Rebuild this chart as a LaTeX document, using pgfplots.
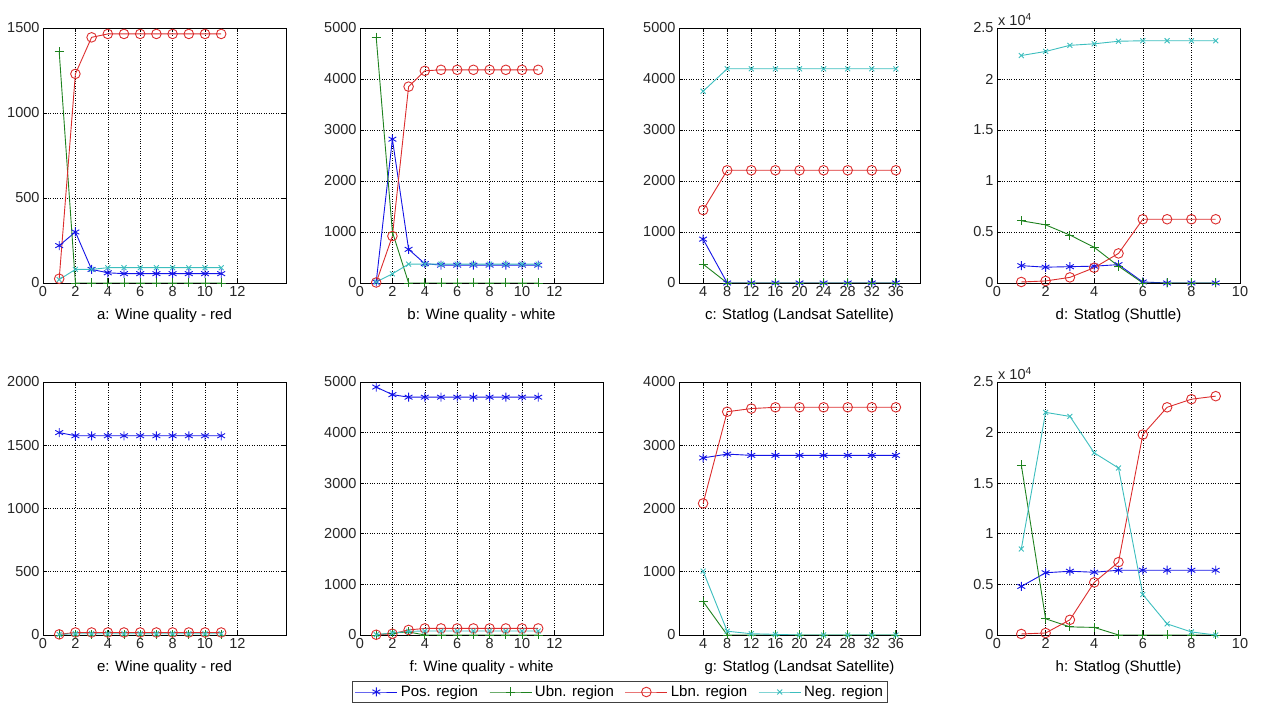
\documentclass[border=0pt]{standalone}
\usepackage{fontspec}
\setmainfont{Liberation Sans}
\usepackage{pgfplots}
\pgfplotsset{compat=1.18}
\definecolor{cpos}{RGB}{20,20,230}
\definecolor{cubn}{RGB}{30,130,30}
\definecolor{clbn}{RGB}{220,45,45}
\definecolor{cneg}{RGB}{60,190,190}
\newcommand{\fs}{\fontsize{15}{17}\selectfont}
\newcommand{\ft}{\fontsize{14.5}{16}\selectfont}
\pgfplotsset{
  panel/.style={
    scale only axis, width=243pt, anchor=south west,
    ymin=0, grid=major,
    major grid style={black, dotted, line width=0.6pt},
    axis line style={black, line width=0.8pt},
    tick style={black, line width=0.6pt}, major tick length=4pt, tick align=inside,
    tick label style={font=\ft, text=black!85},
    /pgf/number format/assume math mode=true,
    /pgf/number format/1000 sep={},
    scaled y ticks=false,
    xlabel style={font=\fs, text=black, at={(axis description cs:0.5,0)}, anchor=center, yshift=-33pt},
    every axis plot/.append style={line width=0.9pt},
  },
  top/.style={height=255pt},
  bot/.style={height=253pt},
  wine/.style={xmin=0, xmax=15, xtick={0,2,...,12}},
  land/.style={xmin=0, xmax=40, xtick={4,8,...,36}},
  shut/.style={xmin=0, xmax=10, xtick={0,2,...,10}, ymax=25000, ytick={0,5000,10000,15000,20000,25000},
    yticklabels={0,0.5,1,1.5,2,2.5},
    extra description/.code={\node[anchor=south west, inner sep=1pt, font=\ft, text=black!85] at ([yshift=1pt]rel axis cs:0,1) {x 10\textsuperscript{4}};}},
  pos/.style={color=cpos, mark=asterisk, mark size=4.5pt, mark options={solid}},
  ubn/.style={color=cubn, mark=+, mark size=4.5pt},
  lbn/.style={color=clbn, mark=o, mark size=4.8pt},
  neg/.style={color=cneg, mark=x, mark size=3.5pt},
}
\begin{document}
\begin{tikzpicture}
\useasboundingbox (0,0) rectangle (1262pt,707pt);
% a
\begin{axis}[panel, top, wine, at={(43pt,424pt)}, ymax=1500, ytick={0,500,1000,1500}, xlabel={a: Wine quality - red}]
\addplot[pos] coordinates {(1,220)(2,300)(3,80)(4,60)(5,55)(6,55)(7,55)(8,55)(9,55)(10,55)(11,55)};
\addplot[ubn] coordinates {(1,1360)(2,0)(3,0)(4,0)(5,0)(6,0)(7,0)(8,0)(9,0)(10,0)(11,0)};
\addplot[lbn] coordinates {(1,25)(2,1230)(3,1445)(4,1465)(5,1465)(6,1465)(7,1465)(8,1465)(9,1465)(10,1465)(11,1465)};
\addplot[neg] coordinates {(1,20)(2,80)(3,80)(4,90)(5,90)(6,90)(7,90)(8,90)(9,90)(10,90)(11,90)};
\end{axis}
% b
\begin{axis}[panel, top, wine, at={(360pt,424pt)}, ymax=5000, ytick={0,1000,...,5000}, xlabel={b: Wine quality - white}]
\addplot[pos] coordinates {(1,20)(2,2820)(3,660)(4,380)(5,350)(6,350)(7,350)(8,350)(9,350)(10,350)(11,350)};
\addplot[ubn] coordinates {(1,4820)(2,1000)(3,0)(4,0)(5,0)(6,0)(7,0)(8,0)(9,0)(10,0)(11,0)};
\addplot[lbn] coordinates {(1,10)(2,920)(3,3850)(4,4160)(5,4180)(6,4180)(7,4180)(8,4180)(9,4180)(10,4180)(11,4180)};
\addplot[neg] coordinates {(1,20)(2,180)(3,370)(4,370)(5,370)(6,370)(7,370)(8,370)(9,370)(10,370)(11,370)};
\end{axis}
% c
\begin{axis}[panel, top, land, width=241pt, at={(679pt,424pt)}, ymax=5000, ytick={0,1000,...,5000}, xlabel={c: Statlog (Landsat Satellite)}]
\addplot[pos] coordinates {(4,860)(8,0)(12,0)(16,0)(20,0)(24,0)(28,0)(32,0)(36,0)};
\addplot[ubn] coordinates {(4,370)(8,0)(12,0)(16,0)(20,0)(24,0)(28,0)(32,0)(36,0)};
\addplot[lbn] coordinates {(4,1430)(8,2210)(12,2210)(16,2210)(20,2210)(24,2210)(28,2210)(32,2210)(36,2210)};
\addplot[neg] coordinates {(4,3760)(8,4200)(12,4200)(16,4200)(20,4200)(24,4200)(28,4200)(32,4200)(36,4200)};
\end{axis}
% d
\begin{axis}[panel, top, shut, at={(997pt,424pt)}, xlabel={d: Statlog (Shuttle)}]
\addplot[pos] coordinates {(1,1700)(2,1550)(3,1600)(4,1650)(5,1800)(6,100)(7,0)(8,0)(9,0)};
\addplot[ubn] coordinates {(1,6100)(2,5700)(3,4700)(4,3500)(5,1650)(6,0)(7,0)(8,0)(9,0)};
\addplot[lbn] coordinates {(1,100)(2,200)(3,550)(4,1500)(5,2900)(6,6250)(7,6250)(8,6250)(9,6250)};
\addplot[neg] coordinates {(1,22300)(2,22700)(3,23300)(4,23450)(5,23700)(6,23750)(7,23750)(8,23750)(9,23750)};
\end{axis}
% e
\begin{axis}[panel, bot, wine, at={(43pt,72pt)}, ymax=2000, ytick={0,500,...,2000}, xlabel={e: Wine quality - red}]
\addplot[pos] coordinates {(1,1600)(2,1575)(3,1575)(4,1575)(5,1575)(6,1575)(7,1575)(8,1575)(9,1575)(10,1575)(11,1575)};
\addplot[ubn] coordinates {(1,0)(2,0)(3,0)(4,0)(5,0)(6,0)(7,0)(8,0)(9,0)(10,0)(11,0)};
\addplot[lbn] coordinates {(1,5)(2,20)(3,20)(4,20)(5,20)(6,20)(7,20)(8,20)(9,20)(10,20)(11,20)};
\addplot[neg] coordinates {(1,5)(2,10)(3,10)(4,10)(5,10)(6,10)(7,10)(8,10)(9,10)(10,10)(11,10)};
\end{axis}
% f
\begin{axis}[panel, bot, wine, at={(360pt,72pt)}, ymax=5000, ytick={0,1000,...,5000}, xlabel={f: Wine quality - white},
  legend columns=4,
  legend style={at={(axis description cs:1.07,-0.2253)}, anchor=center, draw=black!75, line width=0.6pt,
    font=\fs, inner sep=2.5pt, /tikz/every even column/.append style={column sep=9pt},
    /tikz/every odd column/.append style={column sep=1pt}},
  legend image code/.code={\draw[mark repeat=2, mark phase=2, #1] plot coordinates {(0pt,0pt) (21pt,0pt) (42pt,0pt)};}]
\addplot[pos] coordinates {(1,4900)(2,4750)(3,4700)(4,4700)(5,4700)(6,4700)(7,4700)(8,4700)(9,4700)(10,4700)(11,4700)};
\addplot[ubn] coordinates {(1,0)(2,40)(3,60)(4,0)(5,0)(6,0)(7,0)(8,0)(9,0)(10,0)(11,0)};
\addplot[lbn] coordinates {(1,5)(2,25)(3,100)(4,130)(5,130)(6,130)(7,130)(8,130)(9,130)(10,130)(11,130)};
\addplot[neg] coordinates {(1,5)(2,40)(3,70)(4,80)(5,80)(6,80)(7,80)(8,80)(9,80)(10,80)(11,80)};
\legend{Pos. region, Ubn. region, Lbn. region, Neg. region}
\end{axis}
% g
\begin{axis}[panel, bot, land, width=241pt, at={(679pt,72pt)}, ymax=4000, ytick={0,1000,...,4000}, xlabel={g: Statlog (Landsat Satellite)}]
\addplot[pos] coordinates {(4,2800)(8,2860)(12,2840)(16,2840)(20,2840)(24,2840)(28,2840)(32,2840)(36,2840)};
\addplot[ubn] coordinates {(4,530)(8,0)(12,0)(16,0)(20,0)(24,0)(28,0)(32,0)(36,0)};
\addplot[lbn] coordinates {(4,2080)(8,3530)(12,3580)(16,3600)(20,3600)(24,3600)(28,3600)(32,3600)(36,3600)};
\addplot[neg] coordinates {(4,1010)(8,60)(12,20)(16,10)(20,0)(24,0)(28,0)(32,0)(36,0)};
\end{axis}
% h
\begin{axis}[panel, bot, shut, at={(997pt,72pt)}, xlabel={h: Statlog (Shuttle)}]
\addplot[pos] coordinates {(1,4800)(2,6150)(3,6300)(4,6200)(5,6400)(6,6400)(7,6400)(8,6400)(9,6400)};
\addplot[ubn] coordinates {(1,16800)(2,1600)(3,800)(4,750)(5,0)(6,0)(7,0)(8,0)(9,0)};
\addplot[lbn] coordinates {(1,100)(2,200)(3,1500)(4,5200)(5,7200)(6,19800)(7,22500)(8,23300)(9,23600)};
\addplot[neg] coordinates {(1,8500)(2,22000)(3,21600)(4,18000)(5,16500)(6,4000)(7,1100)(8,300)(9,0)};
\end{axis}
\end{tikzpicture}
\end{document}
